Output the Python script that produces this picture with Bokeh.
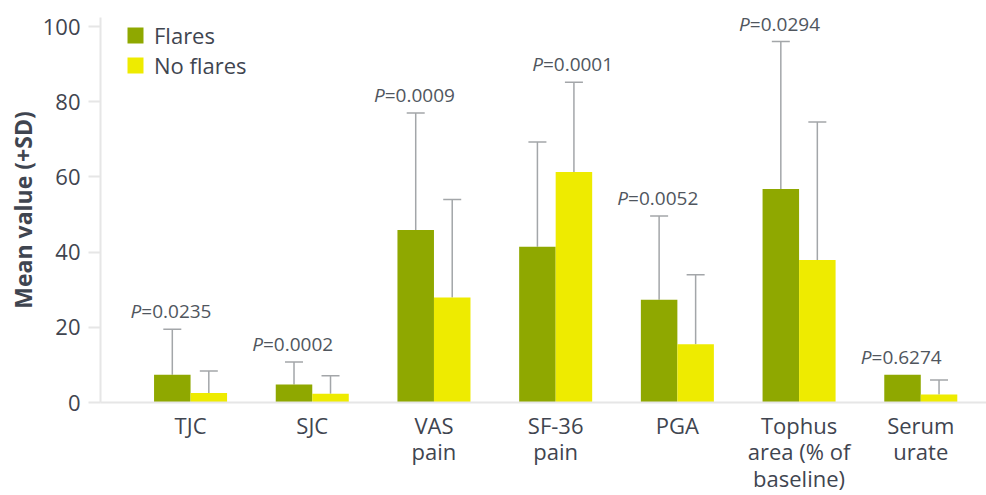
from bokeh.plotting import figure
from bokeh.models import (FixedTicker, Whisker, ColumnDataSource, Legend, LegendItem,
                          TeeHead, Range1d)
from bokeh.core.properties import value
from bokeh.embed import file_html
from bokeh.resources import INLINE

# ---- data ----
categories = ["TJC", "SJC", "VAS\npain", "SF-36\npain", "PGA",
              "Tophus\narea (% of\nbaseline)", "Serum\nurate"]
flares_mean = [7.4, 4.8, 45.9, 41.4, 27.3, 56.8, 7.4]
flares_sd = [12.1, 6.0, 31.1, 27.9, 22.3, 39.2, None]
noflares_mean = [2.5, 2.3, 27.9, 61.3, 15.5, 37.9, 2.1]
noflares_sd = [5.9, 4.8, 26.1, 23.9, 18.5, 36.7, 3.9]
p_values = ["0.0235", "0.0002", "0.0009", "0.0001", "0.0052", "0.0294", "0.6274"]
y_ticks = [0, 20, 40, 60, 80, 100]

FONT = "Open Sans"
TXT = "#3F4550"
GREEN = "#8FA800"
YELLOW = "#EEEB00"
ERR = "#A3A6A9"
AXIS = "#E6E6E6"

idx = list(range(len(categories)))
bw = 0.3
fx = [i - bw / 2 for i in idx]
nx = [i + bw / 2 for i in idx]

W, H = 986, 495
p = figure(width=W, height=H, output_backend="svg", toolbar_location=None,
           x_range=Range1d(-0.74, 6.54), y_range=Range1d(0, 102.4),
           min_border_left=100, min_border_right=0, min_border_top=17,
           min_border_bottom=H - 403)
p.outline_line_color = None
p.xgrid.visible = False
p.ygrid.visible = False
p.background_fill_color = "white"
p.border_fill_color = "white"

src_f = ColumnDataSource(dict(x=fx, top=flares_mean))
src_n = ColumnDataSource(dict(x=nx, top=noflares_mean))
rf = p.vbar(x="x", top="top", width=bw, source=src_f, fill_color=GREEN, line_color=None)
rn = p.vbar(x="x", top="top", width=bw, source=src_n, fill_color=YELLOW, line_color=None)

# error bars
ef = [(x, m, m + s) for x, m, s in zip(fx, flares_mean, flares_sd) if s is not None]
en = [(x, m, m + s) for x, m, s in zip(nx, noflares_mean, noflares_sd) if s is not None]
for data in (ef, en):
    es = ColumnDataSource(dict(x=[d[0] for d in data], lower=[d[1] for d in data],
                               upper=[d[2] for d in data]))
    w = Whisker(base="x", lower="lower", upper="upper", source=es, dimension="height",
                line_color=ERR, line_width=1.5,
                upper_head=TeeHead(size=18, line_color=ERR, line_width=1.5),
                lower_head=None, level="underlay")
    p.add_layout(w)

# P-value labels above the taller bar of each pair
px, py = [], []
for i in idx:
    ft = flares_mean[i] + (flares_sd[i] or 0)
    nt = noflares_mean[i] + (noflares_sd[i] or 0)
    if ft >= nt:
        px.append(fx[i]); py.append(ft)
    else:
        px.append(nx[i]); py.append(nt)
psrc = ColumnDataSource(dict(x=px, y=py, t=["=" + v for v in p_values], pl=["P"] * len(px)))
split = -31
p.text(x="x", y="y", text="pl", source=psrc, x_offset=split, y_offset=-18,
       text_align="right", text_baseline="alphabetic", text_font=value(FONT),
       text_font_style="italic", text_font_size="19px", text_color="#50565E")
p.text(x="x", y="y", text="t", source=psrc, x_offset=split, y_offset=-18,
       text_align="left", text_baseline="alphabetic", text_font=value(FONT),
       text_font_size="19px", text_color="#50565E")

# x axis
p.xaxis.ticker = FixedTicker(ticks=idx)
p.xaxis.major_label_overrides = {i: c for i, c in zip(idx, categories)}
p.xaxis.major_tick_line_color = None
p.xaxis.major_tick_out = 0
p.xaxis.major_tick_in = 0
p.xaxis.minor_tick_line_color = None
p.xaxis.axis_line_color = AXIS
p.xaxis.axis_line_width = 2
p.xaxis.major_label_text_font = FONT
p.xaxis.major_label_text_font_size = "22px"
p.xaxis.major_label_text_color = TXT
p.xaxis.major_label_standoff = 7
p.xaxis.major_label_text_line_height = 0.89

p.yaxis.ticker = FixedTicker(ticks=y_ticks)
p.yaxis.axis_line_color = AXIS
p.yaxis.axis_line_width = 2
p.yaxis.major_tick_line_color = AXIS
p.yaxis.major_tick_line_width = 2
p.yaxis.major_tick_out = 12
p.yaxis.major_tick_in = 0
p.yaxis.minor_tick_line_color = None
p.yaxis.major_label_standoff = 8
p.yaxis.major_label_text_font = FONT
p.yaxis.major_label_text_font_size = "22px"
p.yaxis.major_label_text_color = TXT
p.yaxis.axis_label = "Mean value (+SD)"
p.yaxis.axis_label_text_font = FONT
p.yaxis.axis_label_text_font_style = "bold"
p.yaxis.axis_label_text_font_size = "23px"
p.yaxis.axis_label_text_color = TXT
p.yaxis.axis_label_standoff = 1

legend = Legend(items=[LegendItem(label="Flares", renderers=[rf]),
                       LegendItem(label="No flares", renderers=[rn])],
                location=(25, 322), orientation="vertical",
                glyph_width=20, glyph_height=20, label_height=20, spacing=0,
                padding=0, margin=0, label_standoff=9,
                label_text_font=FONT, label_text_font_size="22px",
                label_text_color=TXT, border_line_color=None,
                background_fill_alpha=0)
p.add_layout(legend)

open("out.html", "w").write(file_html(p, INLINE))
